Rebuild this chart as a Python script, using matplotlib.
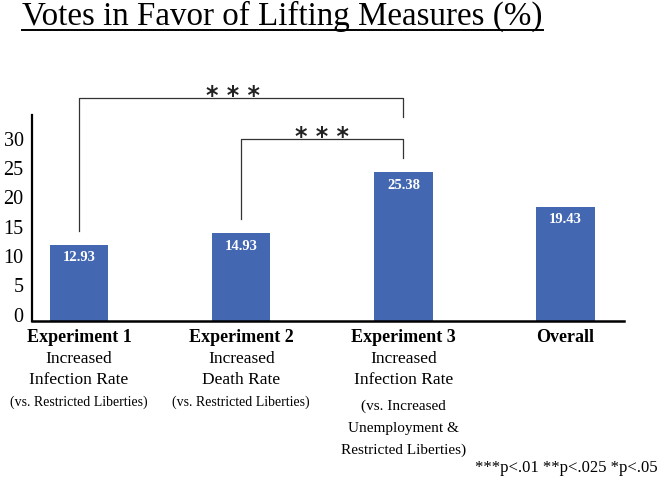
import matplotlib
matplotlib.use("Agg")
import matplotlib.pyplot as plt
from matplotlib.lines import Line2D
from matplotlib.transforms import ScaledTranslation

plt.rcParams['font.family'] = ['Liberation Serif', 'DejaVu Serif']

# data
categories = ["Experiment 1", "Experiment 2", "Experiment 3", "Overall"]
subtitles = [
    ["Increased", "Infection Rate"],
    ["Increased", "Death Rate"],
    ["Increased", "Infection Rate"],
    [],
]
notes = [
    ["(vs. Restricted Liberties)"],
    ["(vs. Restricted Liberties)"],
    ["(vs. Increased", "Unemployment &", "Restricted Liberties)"],
    [],
]
votes = [12.93, 14.93, 25.38, 19.43]
y_ticks = [0, 5, 10, 15, 20, 25, 30]
# significance brackets: (from, to, level, left drop, right drop, stars)
brackets = [(0, 2, 38.0, 15.3, 34.7, "* * *"),
            (1, 2, 31.0, 17.4, 27.8, "* * *")]
title = "Votes in Favor of Lifting Measures (%)"
footnote = "***p<.01 **p<.025 *p<.05"

bar_color = "#4367B1"
W, H = 661, 478

fig = plt.figure(figsize=(W / 100, H / 100), dpi=100)
ax = fig.add_axes([32 / W, 1 - 320.5 / H, (624 - 32) / W, (320.5 - 115) / H])

x = list(range(len(votes)))
ax.bar(x, votes, width=0.36, color=bar_color)
for xi, v in zip(x, votes):
    ax.text(xi, v - 2.25, f"{v:.2f}", ha='center', va='center',
            color='white', fontweight='bold', fontsize=10.5)

ax.set_xlim(-0.29, 3.36)
ax.set_ylim(0, 35.1)
ax.set_yticks(y_ticks)
ax.set_yticklabels([str(t) for t in y_ticks], fontsize=14.5)
ax.tick_params(axis='y', length=0, pad=6)
shift = ScaledTranslation(0, 6 / 100, fig.dpi_scale_trans)
for lab in ax.get_yticklabels():
    lab.set_transform(lab.get_transform() + shift)
ax.set_xticks([])
for s in ['top', 'right']:
    ax.spines[s].set_visible(False)
ax.spines['left'].set_linewidth(1.6)
ax.spines['bottom'].set_linewidth(1.8)

# brackets
for a, b, lvl, da, db, stars in brackets:
    ax.plot([a, a, b, b], [da, lvl, lvl, db], color='#333333', lw=0.9,
            clip_on=False)
    xm = (a + b) / 2 - (0.05 if a == 0 else 0.0)
    ax.text(xm, lvl - 0.8, stars, ha='center', va='baseline',
            fontsize=17, fontweight='bold', family='DejaVu Sans',
            color='#222222', clip_on=False)

# category labels below axis
trans = ax.get_xaxis_transform()
for xi, cat, sub, note in zip(x, categories, subtitles, notes):
    ax.annotate(cat, xy=(xi, 0), xycoords=trans, xytext=(0, -17),
                textcoords='offset pixels', ha='center', va='center',
                fontsize=13, fontweight='bold')
    off = -17
    for line in sub:
        off -= 21.5
        ax.annotate(line, xy=(xi, 0), xycoords=trans, xytext=(0, off),
                    textcoords='offset pixels', ha='center', va='center',
                    fontsize=12.5)
    for line in note:
        if len(note) == 1:
            off -= 22
            fs = 10
        else:
            off -= 26 if line == note[0] else 22
            fs = 11
        ax.annotate(line, xy=(xi, 0), xycoords=trans, xytext=(0, off),
                    textcoords='offset pixels', ha='center', va='center',
                    fontsize=fs)

fig.text(658 / W, 1 - 468 / H, footnote, ha='right', va='center', fontsize=12)

t = fig.text(22 / W, 1 - 25 / H, title, ha='left', va='baseline', fontsize=23.8)
fig.canvas.draw()
bb = t.get_window_extent()
uy = 1 - 29.5 / H
fig.add_artist(Line2D([bb.x0 / W, bb.x1 / W], [uy, uy], color='black',
                      lw=1.4, transform=fig.transFigure))

fig.savefig("out.png", dpi=100)
